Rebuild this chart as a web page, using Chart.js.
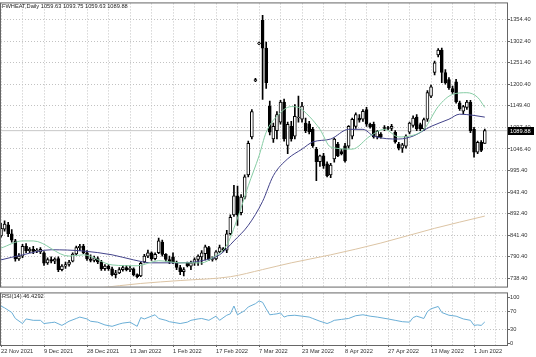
<!DOCTYPE html>
<html><head><meta charset="utf-8">
<script src="https://cdn.jsdelivr.net/npm/chart.js@4.4.0/dist/chart.umd.min.js"></script>
<style>
html,body{margin:0;padding:0;background:#fff;}
#wrap{position:relative;width:536px;height:357px;overflow:hidden;background:#fff;}
canvas{position:absolute;left:0;}
#c1{top:0;} #c2{top:290px;}
</style></head><body>
<div id="wrap"><canvas id="c1" width="536" height="290"></canvas><canvas id="c2" width="536" height="67"></canvas></div>
<script>
const symbol = "FWHEAT,Daily";
const dateLabels = ['22 Nov 2021','9 Dec 2021','28 Dec 2021','13 Jan 2022','1 Feb 2022','17 Feb 2022','7 Mar 2022','23 Mar 2022','8 Apr 2022','27 Apr 2022','13 May 2022','1 Jun 2022'];
const dateBarIdx = [0,12,24,36,48,60,72,84,96,108,120,132];
const priceTicks = [738.4,790.4,841.4,892.4,943.4,995.4,1046.4,1097.4,1149.4,1200.4,1251.4,1302.4,1354.4];
const rsiTicks = [0,30,70,100];

const opens  = [840,856,866,845,828,785,792,815,805,808,804,802,800,776,784,780,786,760,768,772,780,797,812,816,800,785,782,786,778,762,768,762,748,752,760,765,760,762,748,745,778,792,800,786,800,825,796,784,790,777,765,755,776,768,776,784,790,798,812,784,785,802,810,806,845,890,935,895,932,985,1075,1208,1296,1352,1286,1148,1070,1090,1110,1158,1055,1100,1077,1120,1117,1108,1106,1093,1046,1016,1030,1011,985,1023,1058,1040,1054,1053,1077,1100,1120,1117,1140,1105,1105,1075,1082,1096,1096,1095,1086,1058,1048,1053,1086,1102,1122,1104,1094,1117,1172,1228,1270,1281,1228,1211,1190,1206,1156,1136,1145,1157,1093,1039,1062,1059.63];
const highs  = [870,876,872,855,832,798,820,822,812,815,810,812,803,788,790,788,790,772,778,782,800,816,820,820,805,795,792,790,782,772,772,766,758,765,770,770,768,764,750,778,796,806,802,800,835,830,798,792,800,780,770,765,778,780,788,795,805,818,815,790,805,818,812,853,890,960,958,938,985,1065,1140,1214,1300,1364,1300,1160,1108,1135,1162,1165,1110,1112,1152,1172,1157,1120,1112,1098,1050,1032,1036,1016,1012,1072,1062,1046,1060,1102,1120,1132,1128,1140,1145,1108,1110,1090,1085,1102,1100,1105,1090,1062,1060,1080,1110,1125,1128,1108,1120,1185,1198,1255,1285,1286,1235,1216,1196,1212,1160,1150,1162,1162,1098,1065,1066,1093.75];
const lows   = [837,851,838,825,780,782,788,800,800,798,800,798,770,772,776,774,755,757,763,768,778,795,805,798,782,778,778,774,758,758,758,745,740,750,756,757,755,745,740,743,776,788,782,783,798,792,780,774,774,760,748,745,766,760,770,770,772,783,782,780,783,800,803,800,842,886,865,890,928,980,1070,1206,1294,1164,1190,1080,1062,1070,1105,1065,1035,1065,1070,1110,1110,1085,1082,1050,971,1005,1000,980,978,1015,1028,1032,1015,1048,1070,1095,1110,1112,1100,1096,1072,1070,1072,1090,1092,1090,1060,1044,1038,1048,1082,1098,1090,1090,1090,1112,1168,1222,1265,1204,1200,1188,1178,1155,1138,1130,1140,1085,1027,1035,1040,1059.63];
const closes = [858,868,845,830,785,792,815,805,808,803,806,808,775,784,780,785,760,768,772,778,797,812,815,800,785,782,788,778,762,768,762,748,752,760,765,760,763,748,743,775,792,800,786,796,828,796,784,778,777,765,755,760,769,776,784,792,800,814,785,785,802,812,806,845,884,935,890,932,980,1060,1135,1211,1298,1286,1204,1086,1100,1128,1158,1070,1105,1070,1124,1122,1148,1090,1087,1054,1016,1030,1006,983,1008,1070,1030,1035,1018,1100,1117,1128,1115,1136,1105,1098,1075,1088,1075,1095,1095,1100,1063,1048,1056,1077,1108,1120,1094,1094,1116,1180,1194,1251,1281,1228,1204,1192,1182,1158,1142,1147,1158,1089,1039,1062,1043,1089.88];

const maFastX = [0,6,9,19,23,31,38,44,50,56,59,63,66,69,72,74,77,81,83,86,89,92,98,103,107,111,114,118,122,126,130,133,135];
const maFastY = [811,828,828,792,795,771,769,781,776,776,788,818,882,959,1030,1086,1124,1147,1145,1124,1093,1051,1046,1077,1093,1075,1077,1093,1147,1176,1180,1169,1145];
const maMidX  = [0,6,14,23,31,37,42,50,56,61,65,69,73,76,80,84,87,92,97,101,104,111,115,120,125,128,132,135];
const maMidY  = [783,795,807,804,795,783,776,776,781,795,828,865,922,983,1023,1046,1063,1070,1093,1093,1077,1070,1077,1100,1117,1129,1126,1122];
const maSlowX = [27,39,50,64,73,81,92,106,121,135];
const maSlowY = [716,727,734,743,760,776,795,823,858,887];

const rsiX = [0,1,3,4,6,7,9,11,12,14,15,17,19,21,22,24,25,27,29,31,33,34,36,38,39,40,42,43,44,46,47,50,52,53,55,56,58,60,61,63,64,65,66,68,69,71,72,73,74,75,76,77,78,79,80,82,84,86,87,89,91,92,93,95,97,99,101,103,105,108,110,112,114,115,116,118,119,120,122,123,125,127,129,131,132,133,134,135];
const rsiY = [81,77,67,54,43,53,50,50,43,45,46,39,48,54,57,53,48,46,40,37,42,44,46,37,56,53,59,62,54,50,47,43,46,50,53,54,50,59,50,61,64,81,62,71,79,86,92,89,75,62,63,64,66,57,60,61,59,57,54,48,43,46,50,52,54,60,62,59,57,53,50,47,46,56,59,54,69,75,80,67,61,59,53,50,39,40,39,46.4292];
const rsiLabel = "RSI(14) 46.4292";

const FONTF = "'Liberation Sans', Arial, sans-serif";
const FS = 5.7;
const GRIDC = '#c2c2c2';
const gridIdx = []; for (let g = 0; g <= 138; g += 6) gridIdx.push(g);
const XMIN = 0, XMAX = 141.2;
const last = closes.length - 1;

const pts = (xs, ys) => xs.map((x, i) => ({x, y: ys[i]}));
const bars = opens.map((o, i) => i);

function frame(ctx, a){
  ctx.save();
  ctx.strokeStyle = '#666'; ctx.lineWidth = 1;
  ctx.strokeRect(a.left - 0.5, a.top - 0.5, a.right - a.left + 1, a.bottom - a.top + 1);
  ctx.restore();
}

const mainPlugin = {
  id: 'mainDeco',
  afterDraw(chart){
    const {ctx, chartArea} = chart;
    frame(ctx, chartArea);
    ctx.save();
    ctx.font = FS + 'px ' + FONTF;
    ctx.fillStyle = '#222'; ctx.textBaseline = 'middle'; ctx.textAlign = 'left';
    const hdr = symbol + ' ' + [opens[last], highs[last], lows[last], closes[last]].map(v => v.toFixed(2)).join(' ');
    ctx.fillText(hdr, 2, 6.5);
    const y = chart.scales.y.getPixelForValue(closes[last]);
    ctx.fillStyle = '#000';
    ctx.fillRect(508, Math.round(y) - 4, 26, 8);
    ctx.fillStyle = '#fff';
    ctx.fillText(closes[last].toFixed(2), 510, Math.round(y) + 0.5);
    ctx.restore();
  }
};
const rsiPlugin = {
  id: 'rsiDeco',
  afterDraw(chart){
    const {ctx, chartArea} = chart;
    frame(ctx, chartArea);
    ctx.save();
    ctx.font = FS + 'px ' + FONTF;
    ctx.fillStyle = '#222'; ctx.textBaseline = 'middle'; ctx.textAlign = 'left';
    ctx.fillText(rsiLabel, 2, 6);
    ctx.restore();
  }
};

const common = {
  responsive: false, animation: false, devicePixelRatio: 1, events: [],
  plugins: { legend: {display: false}, tooltip: {enabled: false} }
};

new Chart(document.getElementById('c1'), {
  type: 'bar',
  data: { datasets: [
    { type: 'line', data: [{x: -2, y: closes[last]}, {x: 145, y: closes[last]}], borderColor: '#c8c8c8', borderWidth: 1, pointRadius: 0, order: 5 },
    { type: 'bar', data: bars.map(i => ({x: i, y: [lows[i], highs[i]]})), backgroundColor: '#000', borderWidth: 0, barThickness: 1, grouped: false, order: 4 },
    { type: 'bar', data: bars.map(i => ({x: i, y: [Math.min(opens[i], closes[i]), Math.max(opens[i], closes[i])]})),
      backgroundColor: bars.map(i => closes[i] >= opens[i] ? '#fff' : '#000'), borderColor: '#000', borderWidth: 1,
      borderSkipped: false, barThickness: 3, grouped: false, minBarLength: 1, order: 3 },
    { type: 'line', data: pts(maSlowX, maSlowY), borderColor: '#dcc4a4', borderWidth: 1, pointRadius: 0, cubicInterpolationMode: 'monotone', order: 2 },
    { type: 'line', data: pts(maMidX, maMidY), borderColor: '#43438a', borderWidth: 1, pointRadius: 0, cubicInterpolationMode: 'monotone', order: 1 },
    { type: 'line', data: pts(maFastX, maFastY), borderColor: '#86cca4', borderWidth: 1, pointRadius: 0, cubicInterpolationMode: 'monotone', order: 0 }
  ]},
  options: Object.assign({}, common, {
    layout: { padding: {top: 3, left: 1, right: 0, bottom: 1} },
    scales: {
      x: { type: 'linear', min: XMIN, max: XMAX, offset: false,
        afterBuildTicks: s => { s.ticks = gridIdx.map(v => ({value: v})); },
        afterFit: s => { s.height = 0; },
        ticks: { display: false },
        grid: { color: GRIDC, drawTicks: false, offset: false },
        border: { display: false, dash: [1, 2] } },
      y: { type: 'linear', position: 'right', min: 719.6, max: 1392,
        afterBuildTicks: s => { s.ticks = priceTicks.map(v => ({value: v})); },
        afterFit: s => { s.width = 29; },
        ticks: { callback: v => Number(v).toFixed(2), font: {family: FONTF, size: FS}, color: '#333', padding: 0, autoSkip: false },
        grid: { color: GRIDC, drawTicks: true, tickLength: 3, tickColor: '#666' },
        border: { display: false, dash: [1, 2] } }
    }
  }),
  plugins: [mainPlugin]
});

new Chart(document.getElementById('c2'), {
  type: 'line',
  data: { datasets: [
    { data: pts(rsiX, rsiY), borderColor: '#6aaed6', borderWidth: 1, pointRadius: 0, tension: 0 }
  ]},
  options: Object.assign({}, common, {
    layout: { padding: {top: 1, left: 1, right: 0, bottom: 0} },
    scales: {
      x: { type: 'linear', min: XMIN, max: XMAX, offset: false, position: 'bottom',
        afterBuildTicks: s => { s.ticks = gridIdx.map(v => ({value: v})); },
        afterFit: s => { s.height = 12; },
        ticks: { autoSkip: false, maxRotation: 0, minRotation: 0, align: 'start', padding: 1,
          font: {family: FONTF, size: FS}, color: '#333',
          callback: v => { const k = dateBarIdx.indexOf(Number(v)); return k >= 0 ? dateLabels[k] : ''; } },
        grid: { color: GRIDC, drawTicks: true, tickLength: 2, offset: false,
          tickColor: c => (c.tick && dateBarIdx.indexOf(c.tick.value) >= 0) ? '#666' : 'rgba(0,0,0,0)' },
        border: { display: false, dash: [1, 2] } },
      y: { type: 'linear', position: 'right', min: -3.5, max: 108.3,
        afterBuildTicks: s => { s.ticks = rsiTicks.map(v => ({value: v})); },
        afterFit: s => { s.width = 29; },
        ticks: { callback: v => String(v), font: {family: FONTF, size: FS}, color: '#333', padding: 0, autoSkip: false },
        grid: { color: c => (c.tick && (c.tick.value === 30 || c.tick.value === 70)) ? GRIDC : 'rgba(0,0,0,0)',
          drawTicks: true, tickLength: 3, tickColor: '#666' },
        border: { display: false, dash: [1, 2] } }
    }
  }),
  plugins: [rsiPlugin]
});
</script>
</body></html>
